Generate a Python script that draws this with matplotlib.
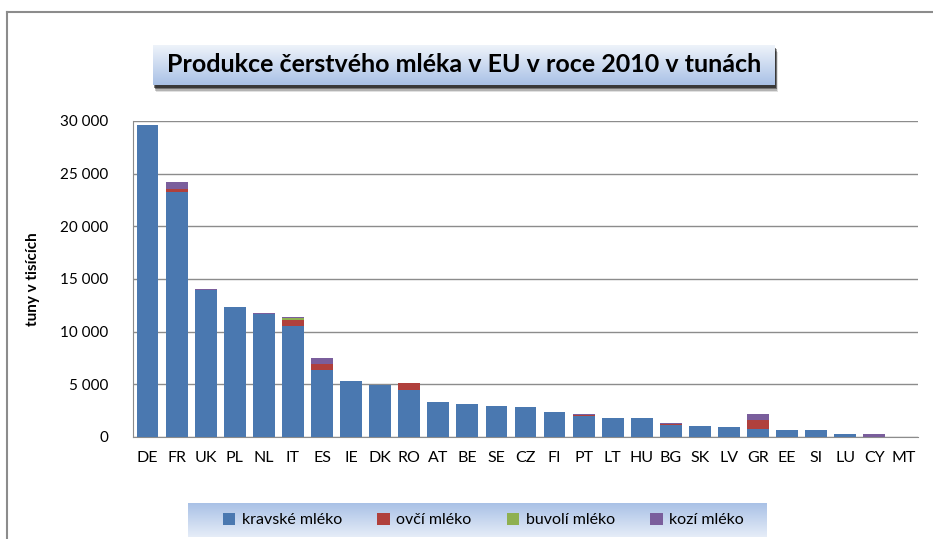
import numpy as np
import matplotlib
matplotlib.use("Agg")
import matplotlib.pyplot as plt
from matplotlib.patches import Rectangle
from matplotlib.lines import Line2D

plt.rcParams['font.family'] = ['Lato', 'DejaVu Sans']

# data (tisíce tun)
zeme = ['DE', 'FR', 'UK', 'PL', 'NL', 'IT', 'ES', 'IE', 'DK', 'RO', 'AT', 'BE', 'SE', 'CZ',
        'FI', 'PT', 'LT', 'HU', 'BG', 'SK', 'LV', 'GR', 'EE', 'SI', 'LU', 'CY', 'MT']
kravske = [29600, 23300, 14000, 12300, 11700, 10520, 6380, 5330, 4980, 4450, 3280, 3100, 2920, 2820,
           2400, 2000, 1780, 1760, 1140, 1010, 930, 760, 700, 640, 280, 40, 40]
ovci = [0, 250, 0, 20, 0, 600, 580, 0, 0, 680, 10, 0, 0, 0,
        0, 110, 0, 10, 120, 10, 0, 880, 0, 0, 0, 0, 0]
buvoli = [0, 0, 0, 0, 0, 200, 0, 0, 0, 0, 0, 0, 0, 0,
          0, 0, 0, 0, 0, 0, 0, 0, 0, 0, 0, 0, 0]
kozi = [50, 620, 20, 30, 50, 40, 580, 0, 0, 20, 30, 0, 0, 30,
        0, 30, 10, 20, 50, 20, 10, 500, 0, 0, 0, 240, 0]
serie = ['kravské mléko', 'ovčí mléko', 'buvolí mléko', 'kozí mléko']
barvy = ['#4A78B0', '#B0403C', '#8FB050', '#7A5E9C']

W, H = 933, 539
fig = plt.figure(figsize=(W / 100, H / 100), dpi=100)

# rámeček grafu (levá a horní hrana)
fig.add_artist(Line2D([7 / W, 7 / W], [0, 1 - 12 / H], color='#8c8c8c', lw=1.5))
fig.add_artist(Line2D([7 / W, 1], [1 - 12 / H, 1 - 12 / H], color='#8c8c8c', lw=1.5))

ax = fig.add_axes([133 / W, 1 - 437 / H, (918 - 133) / W, (437 - 121) / H])
x = np.arange(len(zeme))
dole = np.zeros(len(zeme))
for hodnoty, barva, nazev in zip([kravske, ovci, buvoli, kozi], barvy, serie):
    ax.bar(x, hodnoty, width=0.75, bottom=dole, color=barva, linewidth=0,
           label=nazev, zorder=3)
    dole += np.array(hodnoty)

ax.set_xlim(-0.5, len(zeme) - 0.5)
ax.set_ylim(0, 30000)
ax.set_yticks(range(0, 30001, 5000))
ax.set_yticklabels([f'{v:,}'.replace(',', ' ') for v in range(0, 30001, 5000)], fontsize=11)
ax.set_xticks(x)
ax.set_xticklabels(zeme, fontsize=11.5)
ax.tick_params(length=0, pad=10)
ax.tick_params(axis='y', pad=18)
ax.grid(axis='y', color='#8c8c8c', lw=1, zorder=0)
for s in ['top', 'right']:
    ax.spines[s].set_visible(False)
ax.spines['left'].set_color('#8c8c8c')
ax.spines['bottom'].set_color('#8c8c8c')
ax.set_ylabel('tuny v tisících', fontsize=11, fontweight='bold', labelpad=14)


# rámeček s přechodem (nadpis, legenda)
def prechod_box(x0, y0, x1, y1, c_top, c_bot, stin=False):
    if stin:
        for i, a in enumerate([0.12, 0.2, 0.35, 0.5]):
            d = 7 - i * 1.5
            fig.add_artist(Rectangle(((x0 + d * 0.4) / W, 1 - (y1 + d) / H), (x1 - x0) / W, (y1 - y0) / H,
                                     transform=fig.transFigure, color='black', alpha=a, lw=0, zorder=-1))
    bax = fig.add_axes([x0 / W, 1 - y1 / H, (x1 - x0) / W, (y1 - y0) / H], zorder=1)
    g = np.linspace(0, 1, 100)[:, None, None]
    c1 = np.array(matplotlib.colors.to_rgb(c_top))
    c2 = np.array(matplotlib.colors.to_rgb(c_bot))
    img = c1 * (1 - g) + c2 * g
    bax.imshow(np.repeat(img, 2, axis=1), aspect='auto', extent=[0, 1, 0, 1])
    bax.set_axis_off()
    return bax


tax = prechod_box(153, 45, 775, 85, '#eef3fa', '#a9c1e6', stin=True)
tax.text(0.5, 0.5, 'Produkce čerstvého mléka v EU v roce 2010 v tunách', ha='center', va='center',
         fontsize=18, fontweight='bold', transform=tax.transAxes)

lax = prechod_box(188, 503, 767, 537, '#a9c1e6', '#e6edf8')
h, l = ax.get_legend_handles_labels()
lax.legend(h, l, loc='center', bbox_to_anchor=(0.51, 0.5), ncol=4, frameon=False, fontsize=11.5,
           handlelength=0.8, handleheight=0.8, handletextpad=0.4, columnspacing=2.2)

fig.savefig('out.png', dpi=100)
